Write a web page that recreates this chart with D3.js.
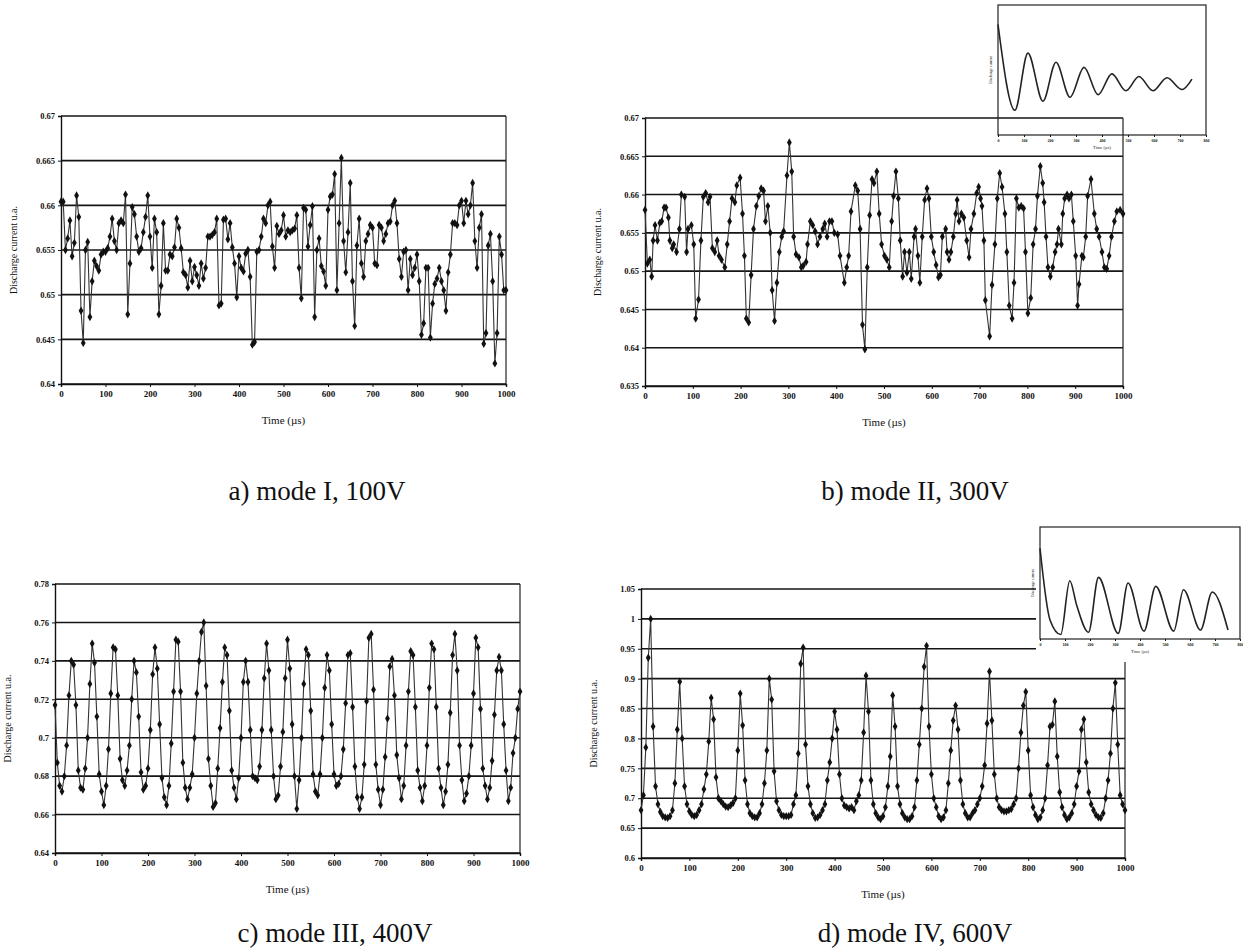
<!DOCTYPE html>
<html>
<head>
<meta charset="utf-8">
<script src="https://cdn.jsdelivr.net/npm/d3@7"></script>
<style>
  body { margin: 0; background: #fff; }
  svg { display: block; }
  .tick text { font-family: "Liberation Serif", serif; font-weight: bold; fill: #111; }
  .domain, .tick line { stroke: #111; }
</style>
</head>
<body>
<svg id="fig" width="1243" height="951"></svg>
<script>
// ---- shared ticks ----
const timeTicks = [0, 100, 200, 300, 400, 500, 600, 700, 800, 900, 1000];
const sampleTime = d3.range(0, 1001, 5); // 5 us sampling grid

// ---- a) mode I, 100V ----
const aTicks = [0.64, 0.645, 0.65, 0.655, 0.66, 0.665, 0.67];
const aCurrent = [
  0.6604, 0.6604, 0.6550, 0.6563, 0.6583, 0.6543, 0.6558, 0.6611, 0.6587, 0.6482,
  0.6446, 0.6550, 0.6559, 0.6475, 0.6515, 0.6538, 0.6532, 0.6527, 0.6545, 0.6548,
  0.6548, 0.6552, 0.6565, 0.6585, 0.6560, 0.6550, 0.6580, 0.6583, 0.6580, 0.6612,
  0.6478, 0.6535, 0.6598, 0.6590, 0.6565, 0.6548, 0.6552, 0.6570, 0.6587, 0.6611,
  0.6565, 0.6530, 0.6585, 0.6570, 0.6478, 0.6510, 0.6580, 0.6527, 0.6527, 0.6545,
  0.6543, 0.6553, 0.6585, 0.6575, 0.6552, 0.6525, 0.6522, 0.6508, 0.6538, 0.6515,
  0.6531, 0.6522, 0.6510, 0.6535, 0.6518, 0.6530, 0.6565, 0.6565, 0.6567, 0.6570,
  0.6585, 0.6488, 0.6490, 0.6584, 0.6585, 0.6562, 0.6580, 0.6553, 0.6535, 0.6497,
  0.6543, 0.6530, 0.6526, 0.6546, 0.6550, 0.6520, 0.6444, 0.6447, 0.6548, 0.6550,
  0.6565, 0.6585, 0.6580, 0.6600, 0.6604, 0.6554, 0.6530, 0.6577, 0.6568, 0.6572,
  0.6589, 0.6565, 0.6572, 0.6570, 0.6572, 0.6574, 0.6589, 0.6530, 0.6496, 0.6597,
  0.6595, 0.6554, 0.6578, 0.6599, 0.6475, 0.6550, 0.6563, 0.6532, 0.6526, 0.6510,
  0.6595, 0.6610, 0.6612, 0.6635, 0.6505, 0.6580, 0.6653, 0.6560, 0.6525, 0.6570,
  0.6625, 0.6515, 0.6465, 0.6555, 0.6585, 0.6535, 0.6520, 0.6560, 0.6568, 0.6578,
  0.6575, 0.6535, 0.6533, 0.6578, 0.6575, 0.6560, 0.6568, 0.6580, 0.6582, 0.6600,
  0.6605, 0.6580, 0.6540, 0.6520, 0.6548, 0.6550, 0.6505, 0.6540, 0.6522, 0.6530,
  0.6545, 0.6515, 0.6455, 0.6468, 0.6530, 0.6530, 0.6452, 0.6490, 0.6512, 0.6518,
  0.6530, 0.6515, 0.6505, 0.6482, 0.6525, 0.6545, 0.6580, 0.6580, 0.6578, 0.6600,
  0.6605, 0.6580, 0.6605, 0.6590, 0.6600, 0.6625, 0.6560, 0.6530, 0.6575, 0.6590,
  0.6445, 0.6457, 0.6555, 0.6568, 0.6515, 0.6423, 0.6457, 0.6565, 0.6545, 0.6505,
  0.6505
];

// ---- b) mode II, 300V (points read off the trace) ----
const bTicks = [0.635, 0.64, 0.645, 0.65, 0.655, 0.66, 0.665, 0.67];
const bTime = [
  0, 5, 10, 14, 17, 21, 26, 31, 35, 40, 44, 49, 52, 57, 60, 66, 72, 76, 83, 87,
  90, 97, 102, 106, 112, 117, 122, 127, 132, 136, 141, 146, 151, 155, 160, 167, 172, 177, 182, 188,
  192, 199, 204, 208, 212, 217, 222, 227, 233, 238, 243, 248, 252, 257, 262, 266, 271, 276, 281, 286,
  290, 297, 302, 307, 311, 316, 322, 327, 331, 337, 340, 346, 351, 356, 361, 366, 372, 376, 381, 386,
  391, 396, 403, 408, 417, 422, 426, 431, 440, 445, 450, 455, 460, 465, 470, 475, 479, 485, 490, 495,
  501, 506, 511, 516, 520, 525, 530, 534, 539, 543, 548, 553, 557, 563, 566, 571, 575, 580, 585, 590,
  594, 599, 604, 609, 614, 618, 622, 629, 632, 636, 640, 645, 650, 653, 657, 662, 667, 673, 678, 682,
  688, 694, 698, 702, 705, 709, 712, 721, 726, 732, 737, 742, 747, 753, 757, 762, 768, 772, 777, 782,
  787, 792, 796, 801, 807, 812, 817, 821, 827, 832, 835, 839, 843, 848, 853, 858, 862, 865, 871, 874,
  878, 883, 887, 892, 896, 901, 905, 908, 914, 917, 922, 926, 933, 940, 945, 950, 956, 961, 966, 971,
  976, 982, 987, 994, 1000
];
const bCurrent = [
  0.6580, 0.6510, 0.6515, 0.6493, 0.6540, 0.6560, 0.6540, 0.6563, 0.6565, 0.6583, 0.6583, 0.6570, 0.6540, 0.6530, 0.6535, 0.6525, 0.6555, 0.6600, 0.6597, 0.6525,
  0.6555, 0.6560, 0.6535, 0.6438, 0.6463, 0.6540, 0.6597, 0.6602, 0.6590, 0.6597, 0.6530, 0.6525, 0.6540, 0.6520, 0.6515, 0.6505, 0.6535, 0.6565, 0.6595, 0.6590,
  0.6612, 0.6622, 0.6575, 0.6520, 0.6438, 0.6433, 0.6495, 0.6555, 0.6585, 0.6598, 0.6608, 0.6605, 0.6565, 0.6585, 0.6550, 0.6475, 0.6435, 0.6485, 0.6525, 0.6545,
  0.6552, 0.6625, 0.6668, 0.6630, 0.6545, 0.6522, 0.6518, 0.6505, 0.6507, 0.6512, 0.6535, 0.6565, 0.6560, 0.6552, 0.6535, 0.6545, 0.6555, 0.6562, 0.6545, 0.6565,
  0.6565, 0.6550, 0.6548, 0.6520, 0.6485, 0.6505, 0.6520, 0.6578, 0.6612, 0.6605, 0.6555, 0.6430, 0.6398, 0.6505, 0.6573, 0.6620, 0.6615, 0.6630, 0.6575, 0.6535,
  0.6520, 0.6515, 0.6505, 0.6565, 0.6598, 0.6630, 0.6595, 0.6540, 0.6493, 0.6525, 0.6498, 0.6525, 0.6490, 0.6545, 0.6555, 0.6520, 0.6485, 0.6545, 0.6593, 0.6608,
  0.6595, 0.6545, 0.6525, 0.6508, 0.6492, 0.6495, 0.6545, 0.6555, 0.6525, 0.6515, 0.6525, 0.6545, 0.6575, 0.6593, 0.6565, 0.6575, 0.6570, 0.6540, 0.6518, 0.6555,
  0.6575, 0.6602, 0.6610, 0.6595, 0.6585, 0.6540, 0.6462, 0.6415, 0.6482, 0.6535, 0.6595, 0.6628, 0.6610, 0.6575, 0.6525, 0.6455, 0.6438, 0.6485, 0.6595, 0.6583,
  0.6585, 0.6582, 0.6525, 0.6445, 0.6465, 0.6535, 0.6555, 0.6598, 0.6637, 0.6615, 0.6590, 0.6545, 0.6505, 0.6493, 0.6505, 0.6525, 0.6535, 0.6555, 0.6535, 0.6575,
  0.6595, 0.6600, 0.6595, 0.6600, 0.6565, 0.6520, 0.6455, 0.6483, 0.6520, 0.6518, 0.6545, 0.6598, 0.6620, 0.6575, 0.6555, 0.6545, 0.6525, 0.6505, 0.6503, 0.6520,
  0.6545, 0.6565, 0.6578, 0.6580, 0.6575
];
// inset b: discharge current vs time (arbitrary units)
const bInsetTime = [0, 65, 115, 173, 223, 277, 331, 385, 438, 492, 542, 596, 650, 708, 746];
const bInsetSignal = [0.85, 0.19, 0.63, 0.26, 0.56, 0.29, 0.52, 0.31, 0.47, 0.34, 0.45, 0.34, 0.44, 0.35, 0.43];

// ---- c) mode III, 400V ----
const cTicks = [0.64, 0.66, 0.68, 0.7, 0.72, 0.74, 0.76, 0.78];
const cCurrent = [
  0.717, 0.687, 0.675, 0.672, 0.680, 0.696, 0.722, 0.740, 0.738, 0.717,
  0.683, 0.674, 0.673, 0.684, 0.700, 0.728, 0.749, 0.739, 0.711, 0.681,
  0.672, 0.665, 0.675, 0.694, 0.723, 0.747, 0.746, 0.722, 0.689, 0.678,
  0.675, 0.683, 0.696, 0.720, 0.740, 0.734, 0.711, 0.682, 0.673, 0.675,
  0.684, 0.704, 0.733, 0.747, 0.736, 0.707, 0.679, 0.669, 0.665, 0.675,
  0.697, 0.724, 0.751, 0.750, 0.724, 0.687, 0.674, 0.668, 0.674, 0.681,
  0.700, 0.723, 0.740, 0.755, 0.760, 0.727, 0.689, 0.675, 0.664, 0.666,
  0.684, 0.705, 0.729, 0.747, 0.743, 0.714, 0.683, 0.674, 0.668, 0.679,
  0.700, 0.729, 0.740, 0.729, 0.704, 0.680, 0.679, 0.678, 0.685, 0.704,
  0.731, 0.749, 0.735, 0.704, 0.680, 0.668, 0.670, 0.685, 0.703, 0.731,
  0.751, 0.736, 0.707, 0.680, 0.663, 0.678, 0.700, 0.728, 0.746, 0.743,
  0.714, 0.681, 0.672, 0.670, 0.681, 0.700, 0.726, 0.743, 0.735, 0.707,
  0.681, 0.675, 0.676, 0.680, 0.694, 0.718, 0.743, 0.744, 0.716, 0.685,
  0.669, 0.663, 0.669, 0.686, 0.719, 0.752, 0.754, 0.725, 0.686, 0.673,
  0.665, 0.673, 0.690, 0.710, 0.737, 0.741, 0.722, 0.691, 0.679, 0.668,
  0.675, 0.696, 0.724, 0.745, 0.743, 0.716, 0.683, 0.674, 0.667, 0.675,
  0.696, 0.726, 0.749, 0.746, 0.716, 0.684, 0.674, 0.665, 0.672, 0.686,
  0.713, 0.743, 0.754, 0.735, 0.696, 0.678, 0.667, 0.671, 0.680, 0.696,
  0.723, 0.752, 0.747, 0.715, 0.684, 0.675, 0.668, 0.674, 0.688, 0.712,
  0.735, 0.742, 0.735, 0.707, 0.683, 0.667, 0.674, 0.692, 0.700, 0.715,
  0.724
];

// ---- d) mode IV, 600V ----
const dTicks = [0.6, 0.65, 0.7, 0.75, 0.8, 0.85, 0.9, 0.95, 1, 1.05];
const dCurrent = [
  0.680, 0.705, 0.785, 0.935, 1.000, 0.820, 0.720, 0.690, 0.677, 0.670,
  0.668, 0.667, 0.670, 0.680, 0.725, 0.815, 0.895, 0.800, 0.720, 0.690,
  0.678, 0.672, 0.670, 0.672, 0.680, 0.690, 0.715, 0.740, 0.795, 0.868,
  0.832, 0.735, 0.700, 0.695, 0.690, 0.686, 0.685, 0.688, 0.692, 0.700,
  0.780, 0.875, 0.822, 0.730, 0.690, 0.675, 0.670, 0.668, 0.668, 0.675,
  0.690, 0.725, 0.780, 0.900, 0.865, 0.745, 0.695, 0.680, 0.672, 0.670,
  0.670, 0.670, 0.672, 0.690, 0.705, 0.775, 0.925, 0.952, 0.790, 0.720,
  0.690, 0.675, 0.667, 0.668, 0.672, 0.680, 0.690, 0.730, 0.760, 0.800,
  0.845, 0.815, 0.740, 0.700, 0.688, 0.685, 0.683, 0.685, 0.680, 0.695,
  0.705, 0.730, 0.810, 0.905, 0.845, 0.730, 0.690, 0.675, 0.668, 0.665,
  0.670, 0.685, 0.720, 0.770, 0.872, 0.820, 0.720, 0.690, 0.675, 0.668,
  0.665, 0.665, 0.670, 0.685, 0.730, 0.790, 0.850, 0.920, 0.955, 0.820,
  0.740, 0.700, 0.685, 0.670, 0.665, 0.668, 0.680, 0.725, 0.780, 0.830,
  0.855, 0.815, 0.730, 0.690, 0.675, 0.668, 0.668, 0.675, 0.680, 0.690,
  0.700, 0.720, 0.755, 0.825, 0.912, 0.830, 0.740, 0.700, 0.685, 0.680,
  0.678, 0.678, 0.680, 0.682, 0.690, 0.700, 0.750, 0.810, 0.855, 0.878,
  0.780, 0.705, 0.685, 0.672, 0.665, 0.668, 0.680, 0.700, 0.755, 0.820,
  0.823, 0.862, 0.770, 0.710, 0.685, 0.672, 0.665, 0.668, 0.675, 0.690,
  0.720, 0.745, 0.815, 0.832, 0.760, 0.710, 0.690, 0.680, 0.672, 0.668,
  0.667, 0.675, 0.700, 0.730, 0.775, 0.850, 0.893, 0.790, 0.705, 0.690,
  0.680
];
// inset d
const dInsetTime = [0, 40, 83, 119, 147, 194, 234, 313, 352, 416, 463, 535, 574, 642, 689, 752];
const dInsetSignal = [0.81, 0.17, 0.04, 0.52, 0.30, 0.06, 0.55, 0.05, 0.50, 0.07, 0.47, 0.07, 0.44, 0.08, 0.42, 0.08];
const insetTicks = [0, 100, 200, 300, 400, 500, 600, 700, 800];

const svg = d3.select('#fig');
svg.append('rect').attr('width', 1243).attr('height', 951).attr('fill', '#fff');

const fmt = v => String(+v.toFixed(3));

function drawPanel(o) {
  const x = d3.scaleLinear().domain([0, 1000]).range([o.left, o.right]);
  const y = d3.scaleLinear().domain([o.yTicks[0], o.yTicks[o.yTicks.length - 1]]).range([o.bottom, o.top]);
  const g = svg.append('g');

  // horizontal grid lines
  g.selectAll('.grid').data(o.yTicks).enter().append('line')
    .attr('x1', o.left).attr('x2', o.right)
    .attr('y1', d => y(d)).attr('y2', d => y(d))
    .attr('stroke', '#151515').attr('stroke-width', 1.6);

  // right frame
  g.append('line').attr('x1', o.right).attr('x2', o.right)
    .attr('y1', o.top).attr('y2', o.bottom)
    .attr('stroke', '#222').attr('stroke-width', 1.2);

  g.append('g').attr('transform', `translate(${o.left},0)`)
    .call(d3.axisLeft(y).tickValues(o.yTicks).tickFormat(fmt).tickSize(3).tickPadding(3))
    .call(s => s.selectAll('text').attr('font-size', 8.5))
    .call(s => s.select('.domain').attr('stroke-width', 1.4));

  g.append('g').attr('transform', `translate(0,${o.bottom})`)
    .call(d3.axisBottom(x).tickValues(timeTicks).tickFormat(d3.format('d')).tickSize(3).tickPadding(4))
    .call(s => s.selectAll('text').attr('font-size', 9))
    .call(s => s.select('.domain').attr('stroke-width', 1.4));

  const pts = o.values.map((v, i) => [o.times[i], v]);
  g.append('path').datum(pts)
    .attr('fill', 'none').attr('stroke', '#333').attr('stroke-width', 1.1)
    .attr('d', d3.line().x(d => x(d[0])).y(d => y(d[1])));

  g.selectAll('.mk').data(pts).enter().append('path')
    .attr('transform', d => `translate(${x(d[0])},${y(d[1])})`)
    .attr('d', d3.symbol().type(d3.symbolDiamond).size(20))
    .attr('fill', '#111');

  g.append('text')
    .attr('transform', `translate(${o.left - 44},${(o.top + o.bottom) / 2}) rotate(-90)`)
    .attr('text-anchor', 'middle')
    .attr('font-family', 'Liberation Serif, serif').attr('font-size', 10).attr('fill', '#111')
    .text('Discharge current u.a.');

  g.append('text')
    .attr('x', (o.left + o.right) / 2).attr('y', o.bottom + 40)
    .attr('text-anchor', 'middle')
    .attr('font-family', 'Liberation Serif, serif').attr('font-size', 11).attr('fill', '#111')
    .text('Time (\u00b5s)');

  svg.append('text')
    .attr('x', o.capX).attr('y', o.capY)
    .attr('text-anchor', 'middle')
    .attr('font-family', 'Liberation Serif, serif').attr('font-size', 27).attr('fill', '#111')
    .text(o.caption);
}

function drawInset(o) {
  const x = d3.scaleLinear().domain([0, 800]).range([o.left, o.right]);
  const y = d3.scaleLinear().domain([0, 1]).range([o.bottom, o.top]);
  const g = svg.append('g');
  if (o.cover) {
    g.append('rect').attr('x', o.cover[0]).attr('y', o.cover[1])
      .attr('width', o.cover[2]).attr('height', o.cover[3]).attr('fill', '#fff');
  }
  g.append('rect').attr('x', o.left).attr('y', o.top)
    .attr('width', o.right - o.left).attr('height', o.bottom - o.top)
    .attr('fill', 'none').attr('stroke', '#222').attr('stroke-width', 1.2);
  g.append('g').attr('transform', `translate(0,${o.bottom})`)
    .call(d3.axisBottom(x).tickValues(insetTicks).tickSize(2).tickPadding(2))
    .call(s => s.selectAll('text').attr('font-size', 4))
    .call(s => s.select('.domain').remove());
  g.append('path').datum(o.times.map((t, i) => [t, o.values[i]]))
    .attr('fill', 'none').attr('stroke', '#222').attr('stroke-width', 1.6)
    .attr('d', d3.line().curve(d3.curveMonotoneX).x(d => x(d[0])).y(d => y(d[1])));
  g.append('text')
    .attr('transform', `translate(${o.left - 6},${(o.top + o.bottom) / 2}) rotate(-90)`)
    .attr('text-anchor', 'middle')
    .attr('font-family', 'Liberation Serif, serif').attr('font-size', 4).attr('fill', '#222')
    .text('Discharge current');
  g.append('text')
    .attr('x', (o.left + o.right) / 2).attr('y', o.bottom + 14)
    .attr('text-anchor', 'middle')
    .attr('font-family', 'Liberation Serif, serif').attr('font-size', 4.5).attr('fill', '#222')
    .text('Time (\u00b5s)');
}

drawPanel({ left: 61, right: 506, top: 116, bottom: 384, yTicks: aTicks,
  times: sampleTime, values: aCurrent, caption: 'a) mode I, 100V', capX: 317, capY: 500 });
drawPanel({ left: 645, right: 1123, top: 118, bottom: 386, yTicks: bTicks,
  times: bTime, values: bCurrent, caption: 'b) mode II, 300V', capX: 915, capY: 500 });
drawPanel({ left: 55, right: 520, top: 584, bottom: 853, yTicks: cTicks,
  times: sampleTime, values: cCurrent, caption: 'c) mode III, 400V', capX: 335, capY: 942 });
drawPanel({ left: 641, right: 1125, top: 589, bottom: 858, yTicks: dTicks,
  times: sampleTime, values: dCurrent, caption: 'd) mode IV, 600V', capX: 915, capY: 942 });

drawInset({ left: 998, right: 1206, top: 5, bottom: 135, times: bInsetTime, values: bInsetSignal });
drawInset({ left: 1040, right: 1240, top: 527, bottom: 639, times: dInsetTime, values: dInsetSignal,
  cover: [1036, 522, 207, 140] });
</script>
</body>
</html>
